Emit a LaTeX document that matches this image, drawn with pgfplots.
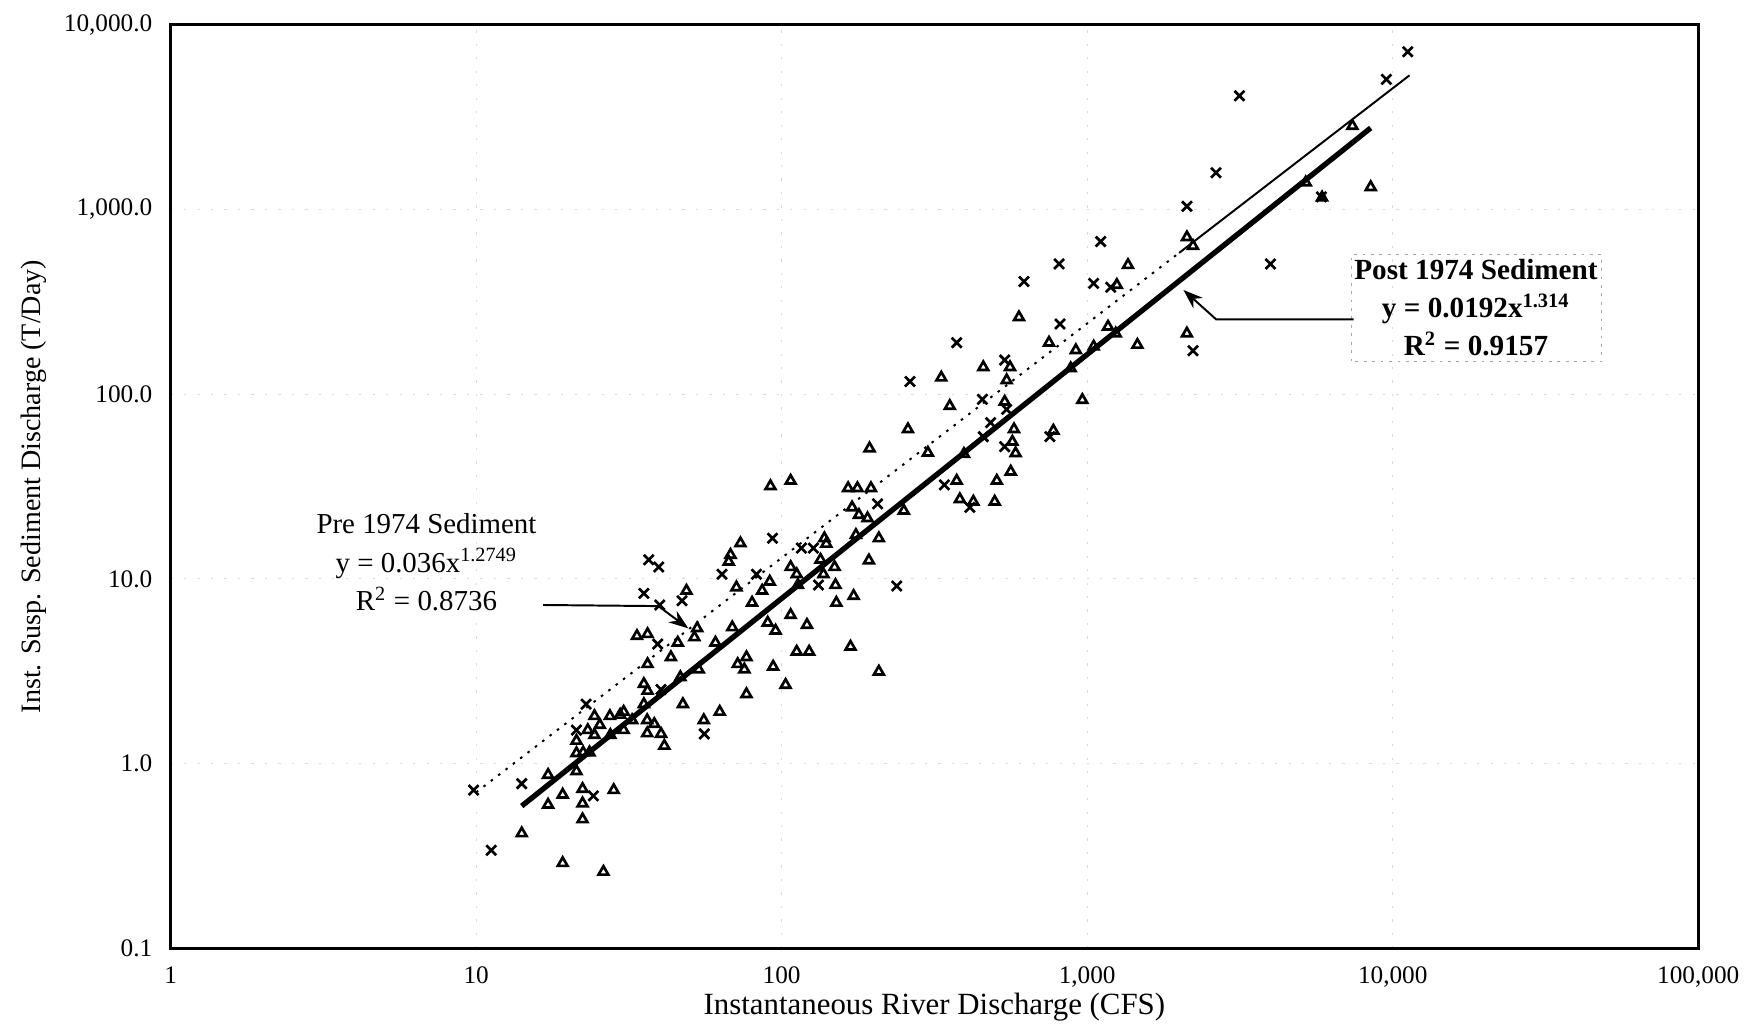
\documentclass[border=0pt]{standalone}
\usepackage{fontspec}
\setmainfont{Liberation Serif}
\usepackage{pgfplots}
\pgfplotsset{compat=1.18}
\usetikzlibrary{arrows.meta}

\pgfplotstableread{
x y
14.1 0.42
17.2 0.87
17.2 0.60
19.2 0.68
19.2 0.29
22.3 0.73
22.3 0.61
22.3 0.50
26.1 0.26
28.2 0.72
21.3 0.91
21.3 1.14
22.4 1.15
23.5 1.15
21.3 1.33
23.2 1.52
24.4 1.43
25.4 1.62
24.4 1.81
27.4 1.81
29.6 1.84
30.4 1.91
30.4 1.52
32.4 1.72
27.5 1.43
36.3 1.72
36.3 1.46
38.3 1.64
40.3 1.45
41.3 1.25
35.4 2.10
35.4 2.70
36.4 2.48
36.4 3.46
33.6 4.91
36.4 5.03
43.4 3.77
45.7 4.52
46.6 2.94
47.5 2.10
53.5 3.24
55.6 1.72
62.7 1.91
60.7 4.52
68.9 5.47
71.8 3.46
76.7 3.77
75.5 3.24
76.7 2.38
93.8 3.35
90.0 5.80
95.5 5.25
51.8 4.83
52.9 5.41
48.8 8.63
71.1 9.0
86.3 8.63
91.4 9.67
80.0 7.44
67.1 12.4
259 64.6
194 50.9
301 48.2
91.9 31.8
107 34.0
165 31.0
177 31.0
196 31.0
170 24.4
179 22.2
191 21.3
251 23.4
374 34.0
506 34.0
383 27.0
424 26.2
498 26.2
175 17.3
208 16.6
193 12.6
172 8.09
151 7.43
150 9.27
149 11.6
137 10.6
134 12.7
138 16.6
140 15.5
73.3 15.6
68.0 13.5
107 11.6
112 10.6
113 9.27
107 6.38
121 5.64
112 4.04
123 4.04
168 4.30
208 3.15
103 2.67
598 261
750 190
1170 232
1240 213
918 173
1460 185
1050 181
883 138
333 123
457 140
559 140
545 119
355 86.3
537 91.0
576 64.6
569 55.3
583 47.9
562 38.1
775 63.5
964 93.0
395 47.5
1360 500
1250 390
7380 2830
8470 1320
2120 707
2220 634
2120 213
5190 1400
5870 1160
}\posttable

\pgfplotstableread{
x y
9.81 0.72
11.2 0.34
14.1 0.78
24.2 0.67
21.3 1.52
22.9 2.10
40.3 2.52
39.3 4.44
55.8 1.45
39.9 7.23
35.4 8.36
47.2 7.62
63.8 10.6
82.7 10.6
36.7 12.7
39.6 11.6
206 25.5
341 32.3
413 24.4
238 9.16
132 9.27
127 14.7
116 14.7
93.3 16.6
815 240
374 190
263 117
537 153
454 93.8
545 82.8
483 70.1
457 58.9
537 52.0
755 58.9
1107 670
809 507
621 407
1050 398
1194 379
11200 7140
9530 5060
3150 4120
2640 1580
5840 1170
2120 1040
3980 507
2220 172
}\pretable

\begin{document}
\begin{tikzpicture}
\begin{axis}[
  at={(0,0)}, anchor=south west,
  scale only axis, width=544.4pt, height=329.2pt,
  xmode=log, ymode=log,
  xmin=1, xmax=100000, ymin=0.1, ymax=10000,
  xtick={1,10,100,1000,10000,100000},
  xticklabels={1,10,100,{1,000},{10,000},{100,000}},
  ytick={0.1,1,10,100,1000,10000},
  yticklabels={0.1,1.0,10.0,100.0,{1,000.0},{10,000.0}},
  minor xtick={}, minor ytick={},
  major tick length=0pt, minor tick length=0pt,
  axis line style={line width=0.9pt},
  grid=major,
  major grid style={gray!28, line width=0.35pt, dash pattern=on 0.8pt off 4pt},
  tick label style={font=\fontsize{9}{11}\selectfont},
  xticklabel style={yshift=-3pt},
  yticklabel style={xshift=-3pt},
  xlabel={Instantaneous River Discharge (CFS)},
  ylabel={Inst. Susp. Sediment Discharge (T/Day)},
  xlabel style={at={(axis description cs:0.5,-0.0632)}, anchor=center, font=\fontsize{11}{13}\selectfont},
  ylabel style={at={(axis description cs:-0.0896,0.5)}, anchor=center, rotate=0, font=\fontsize{10}{12}\selectfont},
  clip=false,
]
\addplot[only marks, mark=triangle, mark size=2.0pt, mark options={line width=0.95pt, black}] table {\posttable};
\addplot[only marks, mark=x, mark size=2.5pt, mark options={line width=0.95pt, black}] table {\pretable};
\addplot[black, line width=0.7pt, dash pattern=on 0.9pt off 2.4pt] coordinates {(10,0.70) (2000,582)};
\addplot[black, line width=0.7pt] coordinates {(2000,582) (11350,5320)};
\addplot[black, line width=1.9pt] coordinates {(14.1,0.59) (8470,2760)};

\node[align=center, font=\fontsize{10.3}{13.6}\selectfont] at (rel axis cs:0.1675,0.418)
  {Pre 1974 Sediment\\ y = 0.036x\textsuperscript{1.2749}\\ R\textsuperscript{2} = 0.8736};
\draw[black, line width=0.7pt, -{Stealth[length=7pt,width=5pt]}]
  (rel axis cs:0.2439,0.3718) -- (rel axis cs:0.3193,0.3706) -- (rel axis cs:0.3389,0.3465);

\draw[gray!70, line width=0.4pt, dash pattern=on 1pt off 2pt]
  (rel axis cs:0.773,0.6355) rectangle (rel axis cs:0.9368,0.751);
\node[align=center, font=\bfseries\fontsize{10.4}{13.6}\selectfont] at (rel axis cs:0.8545,0.6938)
  {Post 1974 Sediment\\ y = 0.0192x\textsuperscript{1.314}\\ R\textsuperscript{2} = 0.9157};
\draw[black, line width=0.7pt, -{Stealth[length=7pt,width=5pt]}]
  (rel axis cs:0.7744,0.6810) -- (rel axis cs:0.6844,0.6810) -- (rel axis cs:0.6630,0.7128);
\end{axis}
\pgfresetboundingbox
\path (-60.8pt,-27.6pt) rectangle (566.4pt,338pt);
\end{tikzpicture}
\end{document}
